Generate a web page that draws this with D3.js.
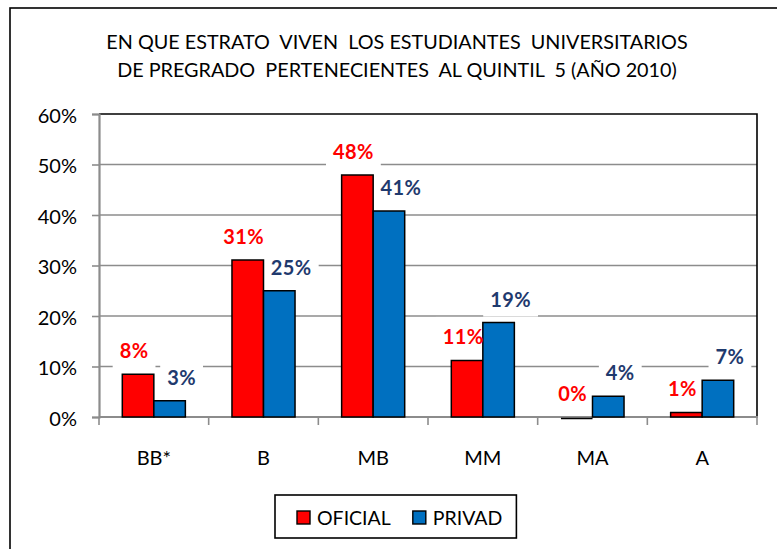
<!DOCTYPE html>
<html>
<head>
<meta charset="utf-8">
<script src="https://d3js.org/d3.v7.min.js"></script>
<style>
  body { margin: 0; background: #fff; }
  svg text { font-family: "Lato", "Open Sans", sans-serif; white-space: pre; }
</style>
</head>
<body>
<div id="chart"></div>
<script>
// datos
var estratos = ["BB*", "B", "MB", "MM", "MA", "A"];
var series = ["OFICIAL", "PRIVAD"];
var oficial = [0.0845, 0.311, 0.479, 0.112, 0.0, 0.009];
var privad = [0.032, 0.250, 0.408, 0.187, 0.041, 0.073];
var yTicks = [0, 0.1, 0.2, 0.3, 0.4, 0.5, 0.6];
var titulo = ["EN QUE ESTRATO  VIVEN  LOS ESTUDIANTES  UNIVERSITARIOS",
              "DE PREGRADO  PERTENECIENTES  AL QUINTIL  5 (AÑO 2010)"];

var colores = { OFICIAL: "#ff0000", PRIVAD: "#0070c0" };
var colorTexto = { OFICIAL: "#ff0000", PRIVAD: "#1f3a6e" };

var width = 777, height = 549;
var plot = { left: 99, right: 757, top: 114, bottom: 417 };

var svg = d3.select("#chart").append("svg")
  .attr("width", width)
  .attr("height", height);

svg.append("rect").attr("width", width).attr("height", height).attr("fill", "#fff");

// marco exterior
svg.append("rect")
  .attr("x", 10).attr("y", 8)
  .attr("width", 800).attr("height", 600)
  .attr("fill", "none").attr("stroke", "#000").attr("stroke-width", 1.6);

// titulo
svg.selectAll(".titulo")
  .data(titulo)
  .enter().append("text")
  .attr("x", 397)
  .attr("y", function(d, i) { return 49 + i * 28; })
  .attr("text-anchor", "middle")
  .attr("font-size", "19.8px")
  .attr("fill", "#000")
  .text(function(d) { return d; });

var y = d3.scaleLinear().domain([0, 0.6]).range([plot.bottom, plot.top]);

var x0 = d3.scaleBand()
  .domain(estratos)
  .range([plot.left, plot.right])
  .paddingInner(0.425)
  .paddingOuter(0.2125);

var x1 = d3.scaleBand()
  .domain(series)
  .range([0, x0.bandwidth()]);

// lineas de division
svg.append("g")
  .selectAll("line")
  .data(yTicks.filter(function(t) { return t > 0 && t < 0.6; }))
  .enter().append("line")
  .attr("x1", plot.left).attr("x2", plot.right)
  .attr("y1", function(d) { return y(d); })
  .attr("y2", function(d) { return y(d); })
  .attr("stroke", "#8c8c8c").attr("stroke-width", 1.4);

// borde superior y derecho del area
svg.append("path")
  .attr("d", "M" + plot.left + "," + plot.top + "H" + plot.right + "V" + plot.bottom)
  .attr("fill", "none").attr("stroke", "#000").attr("stroke-width", 1.6);

// eje Y
var yAxis = svg.append("g")
  .attr("transform", "translate(" + plot.left + ",0)")
  .call(d3.axisLeft(y).tickValues(yTicks).tickSize(7).tickPadding(15)
    .tickFormat(function(d) { return Math.round(d * 100) + "%"; }));
yAxis.select(".domain").attr("stroke", "#8c8c8c").attr("stroke-width", 2.2);
yAxis.selectAll(".tick line").attr("stroke", "#8c8c8c").attr("stroke-width", 1.6);
yAxis.selectAll(".tick text")
  .attr("font-size", "20px")
  .attr("dy", "0.42em")
  .attr("fill", "#000")
  .attr("font-family", "Lato");

// filas por estrato
var filas = estratos.map(function(e, i) {
  return { estrato: e, valores: [
    { serie: "OFICIAL", v: oficial[i] },
    { serie: "PRIVAD", v: privad[i] }
  ] };
});
var valoresPlanos = [];
filas.forEach(function(f) {
  f.valores.forEach(function(d) { valoresPlanos.push({ estrato: f.estrato, serie: d.serie, v: d.v }); });
});

// posicion de etiquetas
var desplaz = { OFICIAL: -4, PRIVAD: 12 };
function etqX(d) { return x0(d.estrato) + x1(d.serie) + x1.bandwidth() / 2 + desplaz[d.serie]; }
function etqY(d) { return y(d.v) - 16; }

// fondos blancos de las etiquetas (debajo de las barras)
var fondos = svg.append("g").selectAll("rect")
  .data(valoresPlanos)
  .enter().append("rect")
  .attr("fill", "#fff");

// eje X
var xAxis = svg.append("g")
  .attr("transform", "translate(0," + plot.bottom + ")");
xAxis.append("line")
  .attr("x1", plot.left).attr("x2", plot.right + 1)
  .attr("stroke", "#8c8c8c").attr("stroke-width", 2.2);
var bordes = estratos.map(function(d) { return x0(d) - x0.step() * 0.2125; });
bordes.push(plot.right);
xAxis.selectAll(".sep")
  .data(bordes)
  .enter().append("line")
  .attr("x1", function(d) { return d; }).attr("x2", function(d) { return d; })
  .attr("y1", 0).attr("y2", 8)
  .attr("stroke", "#8c8c8c").attr("stroke-width", 1.6);
xAxis.selectAll(".cat")
  .data(estratos)
  .enter().append("text")
  .attr("x", function(d) { return x0(d) + x0.bandwidth() / 2; })
  .attr("y", 48)
  .attr("text-anchor", "middle")
  .attr("font-size", "20px")
  .attr("fill", "#000")
  .text(function(d) { return d; });

// barras
svg.append("g").selectAll("path")
  .data(valoresPlanos)
  .enter().append("path")
  .attr("d", function(d) {
    var bx = x0(d.estrato) + x1(d.serie), w = x1.bandwidth();
    var top = y(d.v), bot = y(0) + (d.v === 0 ? 1.5 : 0);
    if (d.v === 0) top = bot;
    return "M" + bx + "," + bot + "V" + top + "h" + w + "V" + bot + "Z";
  })
  .attr("fill", function(d) { return colores[d.serie]; })
  .attr("stroke", "#000")
  .attr("stroke-width", 1.5);

// textos de etiquetas
var textos = svg.append("g").selectAll("text")
  .data(valoresPlanos)
  .enter().append("text")
  .attr("x", etqX)
  .attr("y", etqY)
  .attr("text-anchor", "middle")
  .attr("font-size", "20px")
  .attr("font-weight", "bold")
  .attr("letter-spacing", "0.4px")
  .attr("fill", function(d) { return colorTexto[d.serie]; })
  .text(function(d) { return Math.round(d.v * 100) + "%"; });

textos.each(function(d, i) {
  var bb = this.getBBox();
  d3.select(fondos.nodes()[i])
    .attr("x", bb.x - 7).attr("width", bb.width + 14)
    .attr("y", etqY(d) - 27.5).attr("height", 37.5);
});

// leyenda
var leyenda = svg.append("g");
var caja = leyenda.append("rect")
  .attr("fill", "#fff").attr("stroke", "#000").attr("stroke-width", 1.6);
var lx = 297;
series.forEach(function(s) {
  leyenda.append("rect")
    .attr("x", lx).attr("y", 511)
    .attr("width", 13).attr("height", 13)
    .attr("fill", colores[s]).attr("stroke", "#000").attr("stroke-width", 1.4);
  var t = leyenda.append("text")
    .attr("x", lx + 20).attr("y", 525)
    .attr("font-size", "19.5px")
    .attr("fill", "#000")
    .text(s);
  lx += 20 + t.node().getBBox().width + 22;
});
caja.attr("x", 275).attr("y", 495).attr("width", lx - 22 + 14 - 275).attr("height", 43);
</script>
</body>
</html>
